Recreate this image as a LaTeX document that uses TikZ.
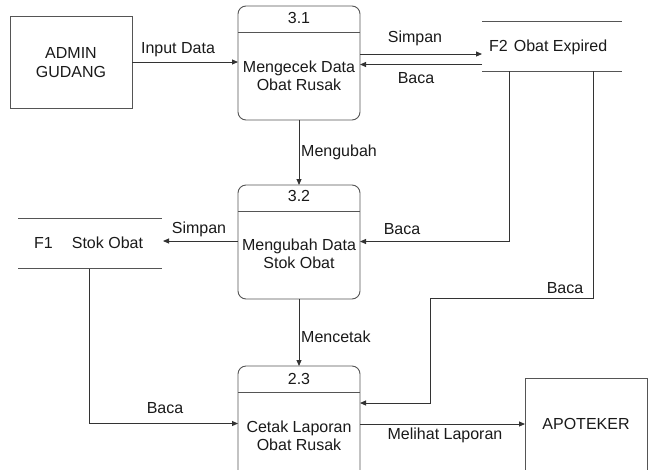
\documentclass[tikz,border=0pt]{standalone}
\usepackage{fontspec}
\setmainfont{Liberation Sans}
\usetikzlibrary{arrows.meta}
\definecolor{ln}{HTML}{333333}
\definecolor{pl}{HTML}{555555}
\definecolor{tx}{HTML}{1a1a1a}
\tikzset{
  ent/.style={draw=pl, line width=0.9pt, rectangle, inner sep=0pt},
  proc/.style={draw=pl, line width=0.9pt, rectangle, rounded corners=8pt, inner sep=0pt},
  txt/.style={text=tx, font=\fontsize{16}{18.5}\selectfont, align=center, inner sep=0pt},
  lbl/.style={text=tx, font=\fontsize{16}{18.5}\selectfont, inner sep=0pt},
  flow/.style={draw=ln, line width=0.9pt, -{Triangle[length=6pt,width=5pt]}},
  stl/.style={draw=pl, line width=0.9pt},
}
\begin{document}
\begin{tikzpicture}[x=1pt,y=-1pt]
\clip (0,0) rectangle (650,469);
\fill[white] (0,0) rectangle (650,469);

% entities
\node[ent, minimum width=122pt, minimum height=92pt] (admin) at (71,62.5) {};
\node[txt] at (admin.center) {ADMIN\\GUDANG};
\node[ent, minimum width=122pt, minimum height=120pt] (apo) at (586,438) {};
\node[txt] at (586,424) {APOTEKER};

% process 3.1
\node[proc, minimum width=122pt, minimum height=114pt] (p31) at (299,63) {};
\draw[stl] (238,32) -- (360,32);
\node[txt] at (299,18) {3.1};
\node[txt] (t31) at (299,76) {Mengecek Data\\Obat Rusak};

% process 3.2
\node[proc, minimum width=122pt, minimum height=114pt] (p32) at (299,242) {};
\draw[stl] (238,211) -- (360,211);
\node[txt] at (299,196) {3.2};
\node[txt] (t32) at (299,254) {Mengubah Data\\Stok Obat};

% process 2.3
\node[proc, minimum width=122pt, minimum height=140pt] (p23) at (299,436) {};
\draw[stl] (238,392.5) -- (360,392.5);
\node[txt] at (299,379) {2.3};
\node[txt] (t23) at (299,436) {Cetak Laporan\\Obat Rusak};

% data stores
\coordinate (f2tl) at (482,21); \coordinate (f2tr) at (622,21);
\coordinate (f2bl) at (482,71); \coordinate (f2br) at (622,71);
\draw[stl] (f2tl) -- (f2tr);
\draw[stl] (f2bl) -- (f2br);
\node[lbl, anchor=base west] (f2) at (489,51.5) {F2\hspace{6pt}Obat Expired};

\coordinate (f1tl) at (18,218); \coordinate (f1tr) at (162,218);
\coordinate (f1bl) at (18,268.5); \coordinate (f1br) at (162,268.5);
\draw[stl] (f1tl) -- (f1tr);
\draw[stl] (f1bl) -- (f1br);
\node[lbl, anchor=base west] (f1) at (34,248.5) {F1\hspace{19pt}Stok Obat};

% flows
\draw[flow] (132,62) -- (238,62);
\node[lbl] at (178,50) {Input Data};

\draw[flow] (360,54) -- (482,54);
\node[lbl] at (415,38) {Simpan};
\draw[flow] (482,64.5) -- (360,64.5);
\node[lbl] at (416,78) {Baca};

\draw[flow] (299,120) -- (299,185);
\node[lbl, anchor=west] at (301,152) {Mengubah};

\draw[flow] (238,241) -- (163,241);
\node[lbl] at (199,229) {Simpan};

\draw[flow] (509,71) -- (509,241.5) -- (360,241.5);
\node[lbl] at (402,229) {Baca};

\draw[flow] (593,71) -- (593,298) -- (430,298) -- (430,403) -- (360,403);
\node[lbl] at (565,288) {Baca};

\draw[flow] (299,299) -- (299,366);
\node[lbl, anchor=west] at (301,337) {Mencetak};

\draw[flow] (89,268.5) -- (89,423.5) -- (238,423.5);
\node[lbl] at (165,408) {Baca};

\draw[flow] (360,424) -- (525,424);
\node[lbl] at (445,435) {Melihat Laporan};
\end{tikzpicture}
\end{document}
